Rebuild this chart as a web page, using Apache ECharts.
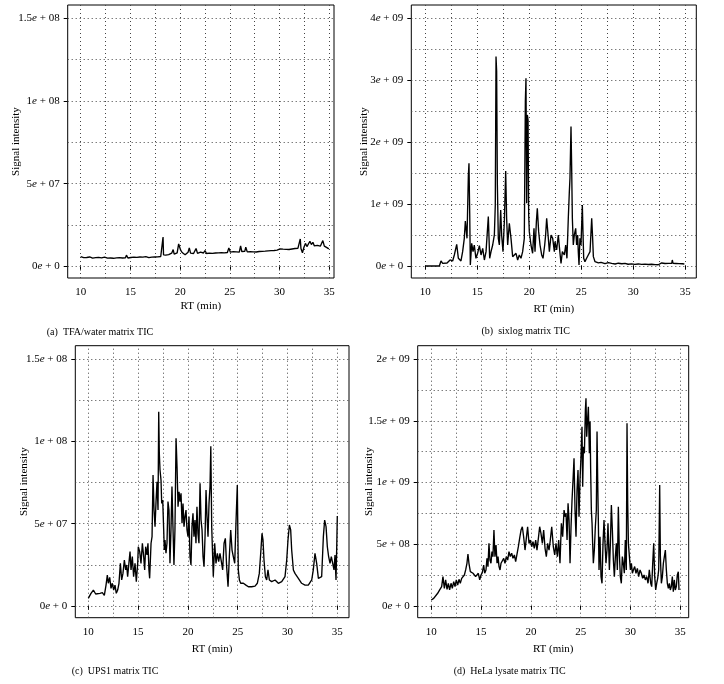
<!DOCTYPE html>
<html><head><meta charset="utf-8">
<script src="https://cdn.jsdelivr.net/npm/echarts@6/dist/echarts.min.js"></script>
<style>html,body{margin:0;padding:0;background:#fff}#chart{width:724px;height:684px}</style>
</head><body><div id="chart"></div>
<script>
// ---------- tick / grid values (signal in units of 1e6) ----------
const xTickValues = [10, 15, 20, 25, 30, 35];
const xGridValues = [10, 12.5, 15, 17.5, 20, 22.5, 25, 27.5, 30, 32.5, 35];

const yTickValuesA = [0, 50, 100, 150];
const yTickLabelsA = ['0e + 0', '5e + 07', '1e + 08', '1.5e + 08'];
const yGridValuesA = [0, 25, 50, 75, 100, 125, 150];

const yTickValuesB = [0, 1000, 2000, 3000, 4000];
const yTickLabelsB = ['0e + 0', '1e + 09', '2e + 09', '3e + 09', '4e + 09'];
const yGridValuesB = [0, 500, 1000, 1500, 2000, 2500, 3000, 3500, 4000];

const yTickValuesC = [0, 50, 100, 150];
const yTickLabelsC = ['0e + 0', '5e + 07', '1e + 08', '1.5e + 08'];
const yGridValuesC = [0, 25, 50, 75, 100, 125, 150];

const yTickValuesD = [0, 500, 1000, 1500, 2000];
const yTickLabelsD = ['0e + 0', '5e + 08', '1e + 09', '1.5e + 09', '2e + 09'];
const yGridValuesD = [0, 250, 500, 750, 1000, 1250, 1500, 1750, 2000];

const captions = ['(a)  TFA/water matrix TIC', '(b)  sixlog matrix TIC', '(c)  UPS1 matrix TIC', '(d)  HeLa lysate matrix TIC'];
const xTitle = 'RT (min)';
const yTitle = 'Signal intensity';

// ---------- (a) TFA/water ----------
const rtA = [
10.0,10.15,10.3,10.45,10.6,10.75,10.9,11.05,11.2,11.35,
11.5,11.65,11.8,11.95,12.1,12.25,12.4,12.55,12.7,12.85,
13.0,13.15,13.3,13.45,13.6,13.75,13.9,14.05,14.2,14.35,
14.5,14.6,14.75,14.9,15.05,15.2,15.35,15.5,15.65,15.8,
15.95,16.1,16.25,16.4,16.55,16.7,16.85,17.0,17.15,17.3,
17.45,17.6,17.75,17.9,18.05,18.2,18.28,18.33,18.4,18.55,
18.7,18.85,19.0,19.15,19.3,19.4,19.55,19.7,19.85,19.95,
20.05,20.2,20.35,20.5,20.65,20.8,20.92,21.05,21.2,21.35,
21.5,21.6,21.75,21.9,22.05,22.2,22.35,22.5,22.65,22.8,
22.95,23.1,23.25,23.4,23.55,23.7,23.85,24.0,24.15,24.3,
24.45,24.6,24.75,24.9,25.05,25.2,25.35,25.5,25.65,25.8,
25.95,26.08,26.2,26.35,26.5,26.6,26.75,26.9,27.05,27.2,
27.35,27.5,27.65,27.8,27.95,28.1,28.25,28.4,28.55,28.7,
28.85,29.0,29.15,29.3,29.45,29.6,29.75,29.9,30.05,30.2,
30.35,30.5,30.65,30.8,30.95,31.1,31.25,31.4,31.55,31.7,
31.85,32.0,32.08,32.15,32.3,32.45,32.6,32.75,32.9,33.05,
33.2,33.35,33.5,33.65,33.8,33.95,34.1,34.25,34.35,34.5,
34.65,34.8,34.95];
const sigA = [
5.9,5.5,5.3,5.8,5.4,5.1,5.7,5.2,5.0,5.6,
5.3,4.8,5.5,6.3,5.2,4.9,5.6,5.3,5.0,5.7,
5.1,5.5,4.9,5.4,5.2,4.8,5.3,5.6,5.1,5.5,
5.2,6.8,5.1,5.0,5.4,5.2,5.6,5.1,5.5,5.3,
5.7,5.2,5.6,5.4,5.9,5.5,5.3,5.8,5.6,6.0,
5.7,6.1,5.8,6.3,6.0,6.6,17.8,7.0,6.2,6.8,
6.3,7.1,6.6,8.0,10.2,7.4,7.0,8.2,13.6,12.4,
9.8,8.4,7.6,7.0,7.9,8.6,11.2,8.0,7.3,7.8,
8.3,10.8,7.9,7.5,8.6,7.4,8.1,9.6,7.8,8.7,
8.0,8.5,7.9,8.4,8.1,8.6,8.2,8.7,8.3,8.5,
8.2,8.8,8.4,11.2,8.6,8.3,8.9,8.5,8.8,9.0,
8.6,12.4,9.0,8.7,9.1,11.6,8.8,8.6,8.9,8.5,
8.8,9.1,8.7,9.2,9.0,9.3,9.1,9.6,9.2,9.8,
9.4,9.9,9.5,10.1,9.6,10.3,9.8,10.0,10.6,10.1,
10.4,11.0,10.3,10.7,10.2,10.9,10.5,11.2,10.8,11.4,
11.0,10.4,16.6,10.8,8.2,11.6,13.9,12.0,11.4,15.2,
13.2,14.6,12.4,13.3,12.7,13.4,12.2,12.9,15.6,12.3,
12.0,11.2,10.6];

// ---------- (b) sixlog ----------
const rtB = [
10.0,11.35,11.51,11.67,11.83,12.09,12.38,12.63,12.79,13.02,
13.18,13.43,13.59,13.75,13.85,14.01,14.14,14.2,14.27,14.33,
14.46,14.59,14.71,14.87,15.03,15.2,15.36,15.52,15.68,15.84,
16.06,16.19,16.32,16.48,16.64,16.73,16.8,16.86,16.93,17.02,
17.12,17.25,17.34,17.47,17.6,17.73,17.82,17.92,18.08,18.24,
18.4,18.56,18.72,18.88,19.04,19.2,19.36,19.52,19.62,19.68,
19.75,19.81,19.88,19.94,20.0,20.16,20.32,20.45,20.55,20.68,
20.77,20.9,21.03,21.19,21.32,21.48,21.57,21.67,21.83,21.93,
22.09,22.25,22.41,22.47,22.63,22.79,22.95,23.05,23.18,23.37,
23.5,23.62,23.75,23.85,23.91,24.01,24.07,24.14,24.23,24.33,
24.46,24.55,24.65,24.71,24.78,24.87,24.97,25.1,25.16,25.23,
25.35,25.51,25.67,25.84,26.0,26.09,26.16,26.32,26.48,26.64,
26.9,27.28,27.6,27.92,28.25,28.56,28.9,29.2,29.5,29.84,
30.15,30.48,30.8,31.12,31.45,31.76,32.1,32.4,32.73,33.05,
33.37,33.7,33.75,33.82,34.1,34.4,34.7,34.91];
const sigB = [
0,0,81,43,27,49,97,81,178,350,
124,81,232,447,727,447,1460,1659,851,16,
366,232,339,124,205,329,178,286,97,232,
797,124,232,339,501,986,3383,3141,1309,447,
339,905,501,232,716,1535,770,339,690,447,
151,124,205,97,178,124,232,447,2656,3033,
1013,2440,2360,824,555,339,205,609,232,716,
932,555,339,178,124,339,501,770,447,232,
501,447,232,393,259,501,205,43,232,178,
339,124,770,1201,1417,2252,1632,770,339,501,
609,339,501,232,16,447,339,986,555,124,
70,124,178,232,770,447,151,70,70,49,
60,38,55,42,32,45,36,43,28,35,
27,33,25,30,24,28,22,20,49,40,
43,45,97,42,40,38,36,32];

// ---------- (c) UPS1 ----------
const rtC = [
10.0,10.27,10.51,10.74,10.94,11.17,11.41,11.61,11.78,11.91,
12.01,12.15,12.28,12.41,12.55,12.68,12.81,12.95,13.08,13.22,
13.35,13.48,13.62,13.75,13.85,13.95,14.09,14.19,14.29,14.42,
14.55,14.69,14.82,14.96,15.02,15.16,15.29,15.43,15.56,15.66,
15.76,15.89,15.99,16.09,16.16,16.3,16.4,16.5,16.6,16.7,
16.8,16.9,17.0,17.07,17.13,17.2,17.3,17.37,17.47,17.57,
17.63,17.7,17.8,17.9,18.0,18.1,18.2,18.3,18.4,18.5,
18.6,18.7,18.81,18.91,19.01,19.11,19.21,19.31,19.41,19.51,
19.61,19.71,19.81,19.91,20.01,20.11,20.21,20.31,20.41,20.51,
20.61,20.71,20.81,20.91,21.01,21.11,21.22,21.32,21.42,21.52,
21.62,21.72,21.82,21.92,22.02,22.12,22.22,22.3,22.39,22.55,
22.69,22.82,22.96,23.09,23.22,23.36,23.49,23.63,23.76,23.89,
24.03,24.16,24.3,24.43,24.56,24.7,24.83,24.96,25.06,25.17,
25.3,25.57,25.83,26.07,26.4,26.74,26.97,27.17,27.31,27.44,
27.54,27.64,27.78,27.91,28.04,28.18,28.41,28.75,29.08,29.42,
29.75,29.92,30.05,30.19,30.32,30.42,30.59,30.75,30.92,31.09,
31.42,31.76,32.09,32.43,32.59,32.76,32.93,33.1,33.26,33.43,
33.6,33.73,33.87,34.0,34.13,34.27,34.4,34.54,34.67,34.77,
34.87,34.95,35.0];
const sigC = [
4.6,7.7,9.7,7.3,6.5,7.7,8.1,6.5,12.7,18.8,
13.8,17.4,10.7,13.8,9.7,12.7,7.7,9.7,13.8,25.9,
15.8,19.8,27.9,21.9,24.9,17.8,26.9,33.0,21.9,30.0,
17.8,25.9,14.8,25.9,36.0,33.0,25.9,38.1,30.0,21.9,
36.0,31.0,38.1,21.9,16.8,38.1,42.1,79.5,58.3,48.2,
63.4,75.5,58.3,118.0,92.7,82.6,76.5,62.3,64.4,46.2,
34.0,40.1,32.0,38.1,63.4,58.3,25.9,46.2,72.5,48.2,
24.9,46.2,101.8,84.6,60.3,69.4,63.4,68.4,50.2,62.3,
48.2,54.3,58.3,46.2,42.1,54.3,30.0,24.9,48.2,56.3,
42.1,52.2,38.1,60.3,44.1,38.1,74.5,52.2,46.2,30.0,
23.9,42.1,70.4,54.3,42.1,62.3,72.5,97.0,48.2,17.8,
38.1,25.9,32.0,26.9,32.0,26.9,21.9,38.1,41.1,23.9,
11.7,30.0,46.2,34.0,30.0,25.9,51.2,73.5,21.9,15.8,
13.8,13.8,12.7,11.7,11.7,12.1,13.8,19.8,32.0,44.1,
40.1,27.9,17.8,15.8,21.9,15.8,14.8,15.8,13.8,14.8,
17.8,27.9,40.1,49.2,46.2,34.0,21.9,19.8,18.8,16.8,
13.8,12.7,12.7,15.8,21.9,32.0,25.9,16.8,15.8,17.8,
42.1,52.2,48.2,36.0,30.0,25.9,30.0,25.9,21.9,31.0,
15.8,38.1,54.6];

// ---------- (d) HeLa lysate ----------
const rtD = [
10.0,10.24,10.44,10.64,10.84,11.04,11.17,11.31,11.44,11.58,
11.71,11.84,11.98,12.11,12.25,12.38,12.51,12.65,12.78,12.91,
13.05,13.18,13.32,13.45,13.58,13.68,13.78,13.92,14.05,14.19,
14.32,14.45,14.59,14.72,14.86,14.99,15.12,15.26,15.36,15.49,
15.59,15.69,15.79,15.89,15.99,16.09,16.19,16.29,16.39,16.5,
16.6,16.7,16.8,16.9,17.0,17.13,17.27,17.4,17.53,17.67,
17.8,17.93,18.07,18.2,18.34,18.47,18.6,18.74,18.87,19.01,
19.14,19.27,19.41,19.54,19.67,19.81,19.94,20.08,20.21,20.34,
20.48,20.61,20.75,20.88,21.01,21.15,21.28,21.42,21.55,21.68,
21.82,21.95,22.09,22.25,22.39,22.52,22.66,22.79,22.92,23.06,
23.19,23.33,23.43,23.53,23.63,23.73,23.83,23.93,24.03,24.13,
24.23,24.33,24.43,24.53,24.63,24.73,24.83,24.93,25.03,25.13,
25.2,25.27,25.37,25.47,25.53,25.6,25.67,25.77,25.87,25.94,
26.0,26.07,26.14,26.2,26.27,26.37,26.47,26.57,26.64,26.71,
26.77,26.84,26.94,27.04,27.14,27.24,27.34,27.44,27.54,27.64,
27.74,27.88,27.98,28.08,28.18,28.28,28.38,28.48,28.58,28.68,
28.78,28.88,28.98,29.08,29.18,29.28,29.38,29.48,29.58,29.65,
29.72,29.79,29.89,29.99,30.09,30.19,30.29,30.42,30.55,30.69,
30.82,30.96,31.09,31.22,31.36,31.49,31.63,31.76,31.89,32.03,
32.13,32.23,32.33,32.43,32.53,32.63,32.73,32.83,32.9,32.93,
33.0,33.1,33.2,33.3,33.4,33.5,33.6,33.7,33.8,33.9,
34.0,34.1,34.2,34.3,34.4,34.5,34.6,34.7,34.8,34.87];
const sigD = [
48.6,62,70,103,130,157,238,143,211,135,
184,130,184,143,197,157,211,170,216,184,
224,238,251,292,346,421,346,278,292,265,
278,238,224,265,211,251,270,332,265,292,
386,319,507,372,346,440,400,615,400,494,
346,400,319,292,346,359,386,346,400,372,
440,400,427,386,413,359,372,480,548,615,
642,561,453,548,642,507,534,480,521,467,
534,453,548,642,588,507,615,467,400,507,
453,534,642,480,413,507,400,534,346,669,
561,777,723,750,534,831,696,346,642,858,
1020,1196,777,561,939,1101,723,1020,1209,1452,
966,1290,1236,1587,1682,1371,1479,1614,1236,1493,
1101,777,669,507,346,453,642,777,1412,993,
696,292,561,238,184,507,696,507,346,453,
669,292,507,818,615,372,238,400,507,292,
804,427,238,184,400,346,265,534,292,1479,
831,507,400,292,346,265,292,319,265,305,
238,292,265,224,251,211,238,184,292,184,
157,346,507,238,130,184,224,292,750,980,
400,184,238,346,400,453,292,184,143,184,
130,157,238,116,211,130,157,251,278,130];

// ---------- layout (pixels) ----------
const FONT = 'Liberation Serif';
const LAYOUT = [
  {box:[67.7,5,334,278],       x10:80.7,  x35:329.3, y0:266.4, yTop:18.3, yNameX:16,  xNameY:305.7, capX:100,   capY:332.7},
  {box:[411.3,5,696.3,278],    x10:425.3, x35:685.3, y0:266,   yTop:18.3, yNameX:364, xNameY:309,   capX:525.7, capY:331.7},
  {box:[75.3,345.7,349,617.7], x10:88.3,  x35:337.3, y0:606,   yTop:359,  yNameX:24,  xNameY:649,   capX:115,   capY:671.7},
  {box:[417.7,345.7,688.7,617.7], x10:431.3, x35:680.3, y0:606, yTop:359, yNameX:369, xNameY:649,   capX:509.6, capY:671.7}
];

const panels = [
  {rt: rtA, sig: sigA, yt: yTickValuesA, yl: yTickLabelsA, yg: yGridValuesA},
  {rt: rtB, sig: sigB, yt: yTickValuesB, yl: yTickLabelsB, yg: yGridValuesB},
  {rt: rtC, sig: sigC, yt: yTickValuesC, yl: yTickLabelsC, yg: yGridValuesC},
  {rt: rtD, sig: sigD, yt: yTickValuesD, yl: yTickLabelsD, yg: yGridValuesD}
];

const grids = [], xAxes = [], yAxes = [], series = [], graphics = [];
panels.forEach((p, i) => {
  const L = LAYOUT[i];
  const [l, t, r, b] = L.box;
  grids.push({left: l, top: t, width: r - l, height: b - t, show: true, borderColor: '#000', borderWidth: 1,
              backgroundColor: 'transparent', containLabel: false, outerBoundsMode: 'none'});
  const pxX = (L.x35 - L.x10) / 25;
  const xmin = 10 - (L.x10 - l) / pxX, xmax = 35 + (r - L.x35) / pxX;
  const topVal = p.yt[p.yt.length - 1];
  const pxY = (L.y0 - L.yTop) / topVal;
  const ymin = -(b - L.y0) / pxY, ymax = topVal + (L.yTop - t) / pxY;
  xAxes.push({type: 'value', gridIndex: i, min: xmin, max: xmax, position: 'bottom',
    axisLine: {show: false}, splitLine: {show: false},
    axisTick: {show: true, customValues: xTickValues, length: 4, lineStyle: {color: '#000', width: 1}},
    axisLabel: {customValues: xTickValues, margin: 9, color: '#000', fontFamily: FONT, fontSize: 11}});
  yAxes.push({type: 'value', gridIndex: i, min: ymin, max: ymax, position: 'left',
    axisLine: {show: false}, splitLine: {show: false},
    axisTick: {show: true, customValues: p.yt, length: 4, lineStyle: {color: '#000', width: 1}},
    axisLabel: {customValues: p.yt, margin: 8, color: '#000',
      formatter: v => {
        const k = p.yt.findIndex(tv => Math.abs(tv - v) < 1e-6);
        if (k < 0) return '';
        const parts = p.yl[k].split('e');
        return '{n|' + parts[0] + '}{i|e}{n|' + parts[1] + '}';
      },
      rich: {n: {fontFamily: FONT, fontSize: 11, color: '#000'},
             i: {fontFamily: FONT, fontSize: 11, fontStyle: 'italic', color: '#000'}}}});
  series.push({type: 'line', xAxisIndex: i, yAxisIndex: i, showSymbol: false, symbol: 'none',
    animation: false, silent: true, clip: true,
    lineStyle: {color: '#000', width: 1.35},
    data: p.rt.map((x, k) => [x, p.sig[k]]),
    markLine: {silent: true, symbol: ['none', 'none'], z: 1, animation: false,
      label: {show: false}, emphasis: {disabled: true},
      lineStyle: {type: [1, 3], color: '#444', width: 1},
      data: xGridValues.map(v => ({xAxis: v})).concat(p.yg.map(v => ({yAxis: v})))}});
  graphics.push({type: 'text', x: L.yNameX, y: (t + b) / 2, rotation: Math.PI / 2,
    style: {text: yTitle, font: '11px "' + FONT + '"', fill: '#000', textAlign: 'center', textVerticalAlign: 'middle'}});
  graphics.push({type: 'text', x: (l + r) / 2, y: L.xNameY,
    style: {text: xTitle, font: '11px "' + FONT + '"', fill: '#000', textAlign: 'center', textVerticalAlign: 'middle'}});
  graphics.push({type: 'text', x: L.capX, y: L.capY,
    style: {text: captions[i], font: '10px "' + FONT + '"', fill: '#000', textAlign: 'center', textVerticalAlign: 'middle'}});
});

const chart = echarts.init(document.getElementById('chart'), null, {renderer: 'canvas'});
chart.setOption({
  animation: false,
  backgroundColor: '#fff',
  grid: grids, xAxis: xAxes, yAxis: yAxes, series: series, graphic: graphics
});
</script></body></html>
